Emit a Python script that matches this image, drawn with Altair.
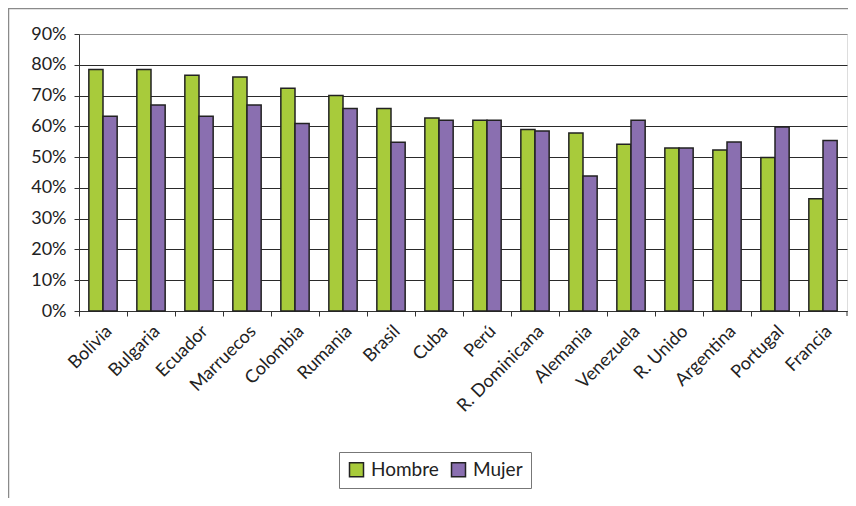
import altair as alt
import pandas as pd

countries = ["Bolivia", "Bulgaria", "Ecuador", "Marruecos", "Colombia", "Rumania",
             "Brasil", "Cuba", "Perú", "R. Dominicana", "Alemania", "Venezuela",
             "R. Unido", "Argentina", "Portugal", "Francia"]
hombre = [78.5, 78.5, 76.6, 76.0, 72.4, 70.0, 65.8, 62.7, 62.0, 59.0, 57.8, 54.2,
          53.0, 52.3, 49.9, 36.5]
mujer = [63.3, 66.9, 63.3, 66.9, 60.9, 65.8, 54.8, 62.0, 62.0, 58.5, 43.9, 62.0,
         53.0, 54.9, 59.8, 55.4]
series = ["Hombre", "Mujer"]
colors = ["#A8CB3B", "#8A6FB0"]
y_ticks = [0, 0.1, 0.2, 0.3, 0.4, 0.5, 0.6, 0.7, 0.8, 0.9]

rows = []
for c, h, m in zip(countries, hombre, mujer):
    rows.append({"pais": c, "sexo": "Hombre", "valor": h / 100})
    rows.append({"pais": c, "sexo": "Mujer", "valor": m / 100})
df = pd.DataFrame(rows)

W, H = 768, 277
FONT = "Lato"

bars = alt.Chart(df).mark_bar(stroke="#222222", strokeWidth=1.5).encode(
    x=alt.X("pais:N", sort=countries,
            scale=alt.Scale(paddingInner=0, paddingOuter=0),
            axis=alt.Axis(title=None, labelAngle=-45, bandPosition=0,
                          tickSize=5, tickColor="#333333",
                          domainColor="#333333", labelFontSize=18, labelFont=FONT,
                          labelColor="#222222", labelPadding=6, grid=False)),
    xOffset=alt.XOffset("sexo:N", sort=series,
                        scale=alt.Scale(paddingInner=0, paddingOuter=0.695)),
    y=alt.Y("valor:Q", scale=alt.Scale(domain=[0, 0.9]),
            axis=alt.Axis(title=None, values=y_ticks, format=".0%", tickSize=5,
                          tickColor="#333333", domainColor="#333333",
                          labelFontSize=18, labelFont=FONT, labelColor="#222222",
                          labelPadding=8, grid=True,
                          gridColor={"condition": {"test": "datum.value >= 0.89", "value": "#8c8c8c"},
                                     "value": "#2a2a2a"},
                          gridWidth=1.2)),
    color=alt.Color("sexo:N", scale=alt.Scale(domain=series, range=colors),
                    legend=alt.Legend(title=None, orient="none", legendX=260, legendY=418,
                                      direction="horizontal", symbolType="square",
                                      symbolSize=196, symbolStrokeColor="#222222",
                                      symbolStrokeWidth=1.5, labelFontSize=19,
                                      labelFont=FONT, labelColor="#222222",
                                      labelOffset=5, columnPadding=9, padding=8,
                                      strokeColor="#777777", fillColor="white")),
)

one = pd.DataFrame({"k": [0]})
frame_left = alt.Chart(one).mark_rule(color="#8a8a8a", strokeWidth=1.5).encode(
    x=alt.value(-70.5), y=alt.value(-26), y2=alt.value(H + 200))
frame_top = alt.Chart(one).mark_rule(color="#8a8a8a", strokeWidth=1.5).encode(
    x=alt.value(-71), x2=alt.value(W + 10), y=alt.value(-25.5))
end_tick = alt.Chart(one).mark_rule(color="#333333", strokeWidth=1).encode(
    x=alt.value(W), y=alt.value(H), y2=alt.value(H + 5))

chart = alt.layer(bars, end_tick, frame_left, frame_top).properties(
    width=W, height=H,
    autosize=alt.AutoSizeParams(type="none"),
    padding={"left": 71, "top": 26, "right": 1, "bottom": 187},
).configure_view(strokeWidth=0).configure(font=FONT)

chart.save("out.html", embed_options={"renderer": "svg", "actions": False})
